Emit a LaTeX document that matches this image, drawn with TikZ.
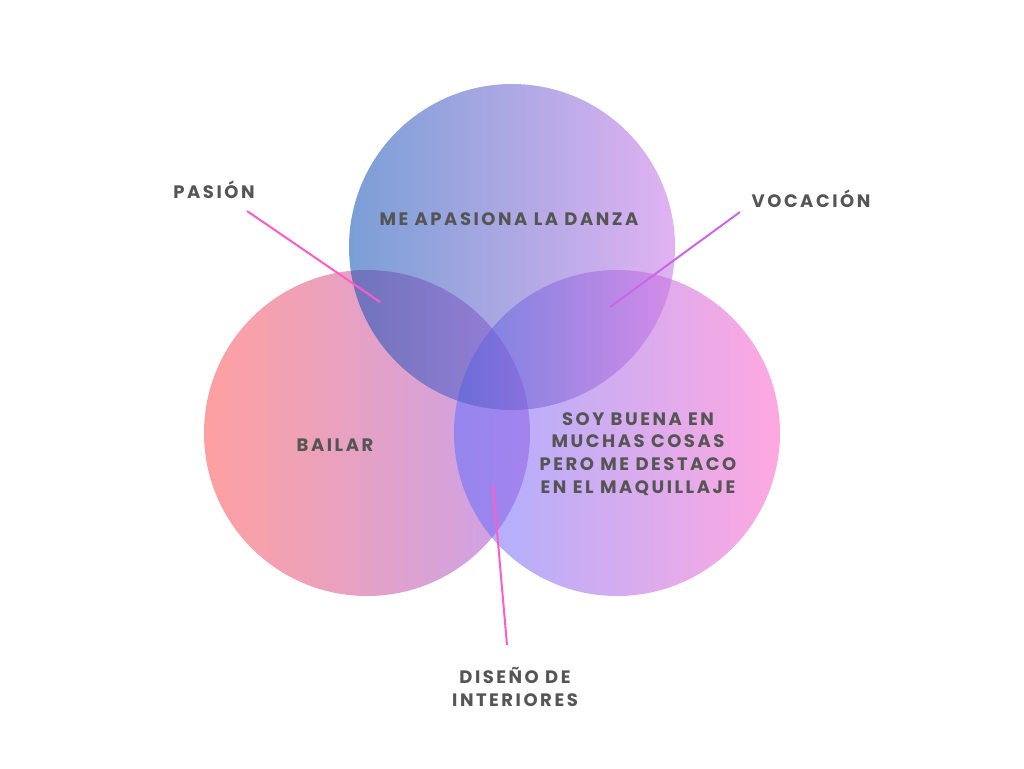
\documentclass[tikz,border=0pt]{standalone}
\usepackage{fontspec}
\setmainfont{Poppins}[LetterSpace=14]
\usetikzlibrary{positioning}

\definecolor{txtgray}{HTML}{555555}
\definecolor{linkpink}{HTML}{FF5CC8}
\definecolor{linkviolet}{HTML}{CC66E8}

\tikzset{
  lbl/.style={font=\bfseries\fontsize{18}{22.7}\selectfont, text=txtgray, align=center, inner sep=0pt},
  link/.style={line width=2pt},
  bubble/.style={opacity=0.55},
}

\begin{document}
\begin{tikzpicture}[x=1pt,y=-1pt]
\useasboundingbox (0,0) rectangle (1024,768);
% circles
\shade[bubble, left color={rgb,255:red,255;green,82;blue,82}, right color={rgb,255:red,157;green,86;blue,220}] (367,433) circle (163);
\shade[bubble, left color={rgb,255:red,97;green,111;blue,255}, right color={rgb,255:red,255;green,97;blue,199}] (617,433) circle (163);
\shade[bubble, left color={rgb,255:red,13;green,79;blue,180}, right color={rgb,255:red,199;green,115;blue,231}] (512,247) circle (163);
% texts
\node[lbl] (danza) at (509,219) {ME APASIONA LA DANZA};
\node[lbl] (bailar) at (335,445) {BAILAR};
\node[lbl] (maquillaje) at (638,454) {SOY BUENA EN\\MUCHAS COSAS\\PERO ME DESTACO\\EN EL MAQUILLAJE};
\node[lbl] (pasion) at (214,190) {PASIÓN};
\node[lbl] (vocacion) at (811,199) {VOCACIÓN};
\node[lbl] (diseno) at (515,687) {DISEÑO DE\\INTERIORES};
% pointers
\coordinate (pasionA) at (247,211);
\coordinate (pasionB) at (380,302);
\coordinate (vocacionA) at (740,212);
\coordinate (vocacionB) at (610,307);
\coordinate (disenoA) at (507,645);
\coordinate (disenoB) at (493,485);
\draw[link,linkpink] (pasionA) -- (pasionB);
\draw[link,linkviolet] (vocacionA) -- (vocacionB);
\draw[link,linkpink] (disenoA) -- (disenoB);
\end{tikzpicture}
\end{document}
